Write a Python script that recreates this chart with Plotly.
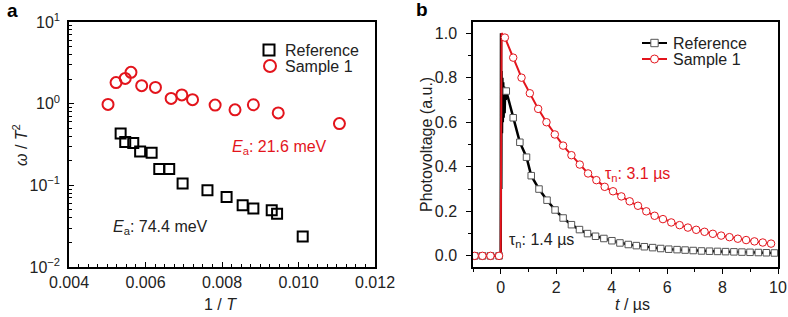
import plotly.graph_objects as go

# ---------------- Panel a data ----------------
a_sample_x = [0.00502, 0.00523, 0.00547, 0.00562, 0.00590, 0.00626, 0.00667, 0.00695,
              0.00723, 0.00782, 0.00834, 0.00882, 0.00947, 0.01107]
a_sample_y = [0.98, 1.81, 2.04, 2.42, 1.66, 1.58, 1.16, 1.28, 1.12, 0.96, 0.84, 0.97, 0.77, 0.57]
a_ref_x = [0.00535, 0.00547, 0.00568, 0.00586, 0.00616, 0.00636, 0.00662, 0.00697,
           0.00762, 0.00812, 0.00854, 0.00882, 0.00930, 0.00944, 0.01011]
a_ref_y = [0.43, 0.34, 0.33, 0.26, 0.25, 0.158, 0.158, 0.105, 0.087, 0.072, 0.057, 0.052,
           0.0496, 0.045, 0.0237]

# ---------------- Panel b data ----------------
b_pre_t = [-0.94, -0.66, -0.37, -0.06]
b_pre_v = [0.0, 0.0, 0.0, 0.0]

b_sample_t = [0.15, 0.45, 0.75, 1.05, 1.35, 1.65, 1.95, 2.25, 2.55, 2.85, 3.15, 3.45, 3.75,
              4.05, 4.35, 4.65, 4.95, 5.25, 5.55, 5.85, 6.15, 6.45, 6.75, 7.05, 7.35, 7.65,
              7.95, 8.25, 8.55, 8.85, 9.15, 9.45, 9.75]
b_sample_v = [0.98, 0.89, 0.80, 0.73, 0.66, 0.60, 0.545, 0.495, 0.452, 0.41, 0.37, 0.34, 0.31,
              0.29, 0.267, 0.245, 0.225, 0.20, 0.18, 0.165, 0.15, 0.138, 0.127, 0.117, 0.108,
              0.099, 0.091, 0.084, 0.077, 0.071, 0.065, 0.060, 0.055]
b_sample_spike_t = [0.0, 0.03, 0.08]
b_sample_spike_v = [0.0, 1.0, 0.99]

b_ref_t = [0.2, 0.45, 0.69, 0.93, 1.1, 1.38, 1.67, 1.96, 2.25, 2.55, 2.84, 3.13, 3.42, 3.72,
           4.01, 4.3, 4.6, 4.89, 5.18, 5.48, 5.77, 6.06, 6.36, 6.65, 6.94, 7.24, 7.53, 7.82,
           8.11, 8.41, 8.7, 8.99, 9.29, 9.58, 9.87]
b_ref_v = [0.74, 0.62, 0.51, 0.443, 0.36, 0.30, 0.25, 0.206, 0.17, 0.14, 0.118, 0.10, 0.088,
           0.078, 0.068, 0.058, 0.051, 0.046, 0.041, 0.037, 0.033, 0.030, 0.028, 0.026, 0.024,
           0.022, 0.021, 0.020, 0.019, 0.018, 0.017, 0.016, 0.015, 0.014, 0.013]
b_ref_spike_t = [0.0, 0.01, 0.02, 0.03, 0.045, 0.06, 0.075, 0.09, 0.105, 0.12, 0.14, 0.16, 0.18]
b_ref_spike_v = [0.0, 1.0, 0.3, 0.83, 0.55, 0.8, 0.6, 0.78, 0.62, 0.76, 0.64, 0.74, 0.7]

# ---------------- Geometry ----------------
W, H = 788, 317
TOP, BOT = 22, 267
PLOT_H = BOT - TOP
FONT = "Liberation Sans, Arial, Helvetica, sans-serif"
RED = "#e3141c"
BLACK = "#000000"


def px(x):
    return x / W


def py(y):
    return (BOT - y) / PLOT_H


fig = go.Figure()

# Panel a traces
fig.add_trace(go.Scatter(x=a_ref_x, y=a_ref_y, mode="markers", xaxis="x", yaxis="y",
                         marker=dict(symbol="square-open", size=10, color=BLACK,
                                     line=dict(width=2, color=BLACK)),
                         showlegend=False))
fig.add_trace(go.Scatter(x=a_sample_x, y=a_sample_y, mode="markers", xaxis="x", yaxis="y",
                         marker=dict(symbol="circle-open", size=11, color=RED,
                                     line=dict(width=2, color=RED)),
                         showlegend=False))

# Panel b traces
ref_line_t = [-1.0] + b_pre_t + b_ref_spike_t + b_ref_t
ref_line_v = [0.0] + b_pre_v + b_ref_spike_v + b_ref_v
fig.add_trace(go.Scatter(x=ref_line_t, y=ref_line_v, mode="lines", xaxis="x2", yaxis="y2",
                         line=dict(color=BLACK, width=2.5), showlegend=False))
fig.add_trace(go.Scatter(x=b_pre_t + b_ref_t, y=b_pre_v + b_ref_v, mode="markers",
                         xaxis="x2", yaxis="y2",
                         marker=dict(symbol="square", size=6.5, color="white",
                                     line=dict(width=1, color="#555555")),
                         showlegend=False))
sample_line_t = [-1.0] + b_pre_t + b_sample_spike_t + b_sample_t
sample_line_v = [0.0] + b_pre_v + b_sample_spike_v + b_sample_v
fig.add_trace(go.Scatter(x=sample_line_t, y=sample_line_v, mode="lines", xaxis="x2", yaxis="y2",
                         line=dict(color=RED, width=2), showlegend=False))
fig.add_trace(go.Scatter(x=b_pre_t + b_sample_t, y=b_pre_v + b_sample_v, mode="markers",
                         xaxis="x2", yaxis="y2",
                         marker=dict(symbol="circle", size=7.5, color="white",
                                     line=dict(width=1, color=RED)),
                         showlegend=False))

axis_common = dict(showline=True, mirror=True, linecolor=BLACK, linewidth=1.5,
                   showgrid=False, zeroline=False, automargin=False,
                   tickfont=dict(family=FONT, size=16, color="#222222"),
                   tickcolor=BLACK, tickwidth=1.2)

minor_log = [m * 10 ** e for e in (-2, -1, 0) for m in range(2, 10)]

fig.update_layout(
    width=W, height=H,
    margin=dict(l=0, r=0, t=TOP, b=H - BOT),
    paper_bgcolor="white", plot_bgcolor="white",
    showlegend=False,
    xaxis=dict(domain=[px(69), px(375)], range=[0.004, 0.012], anchor="y",
               tickvals=[0.004, 0.006, 0.008, 0.010, 0.012],
               ticktext=["0.004", "0.006", "0.008", "0.010", "0.012"],
               ticks="inside", ticklen=5,
               minor=dict(dtick=0.00025, ticks="inside", ticklen=3, tickcolor=BLACK, showgrid=False),
               **axis_common),
    yaxis=dict(domain=[0, 1], type="log", range=[-2, 1], anchor="x",
               tickvals=[0.01, 0.1, 1, 10],
               ticktext=["10<sup>−2</sup>", "10<sup>−1</sup>", "10<sup>0</sup>", "10<sup>1</sup>"],
               ticks="inside", ticklen=5, ticklabelstandoff=4,
               minor=dict(tickvals=minor_log, ticks="inside", ticklen=3, tickcolor=BLACK, showgrid=False),
               **axis_common),
    xaxis2=dict(domain=[px(473), px(778)], range=[-1, 10], anchor="y2",
                tickvals=[0, 2, 4, 6, 8, 10],
                ticks="outside", ticklen=5,
                minor=dict(dtick=1, ticks="outside", ticklen=3, tickcolor=BLACK, showgrid=False),
                **axis_common),
    yaxis2=dict(domain=[0, 1], range=[-0.05, 1.05], anchor="x2",
                tickvals=[0.0, 0.2, 0.4, 0.6, 0.8, 1.0],
                ticktext=["0.0", "0.2", "0.4", "0.6", "0.8", "1.0"],
                ticks="outside", ticklen=5, ticklabelstandoff=6,
                minor=dict(dtick=0.1, ticks="outside", ticklen=3, tickcolor=BLACK, showgrid=False),
                **axis_common),
)

annotations = []


def add_text(text, x, y, size=16, color="#222222", xanchor="center", textangle=0, bold=False):
    if bold:
        text = "<b>" + text + "</b>"
    annotations.append(dict(text=text, x=px(x), y=py(y), xref="paper", yref="paper",
                            xanchor=xanchor, yanchor="middle", showarrow=False,
                            textangle=textangle,
                            font=dict(family=FONT, size=size, color=color)))


# panel letters
add_text("a", 12, 11, size=19, color=BLACK, bold=True)
add_text("b", 422, 9, size=19, color=BLACK, bold=True)

# axis titles
add_text("<i>ω</i> / <i>T</i><sup>2</sup>", 20, 145, textangle=-90)
add_text("1 / <i>T</i>", 221, 304)
add_text("Photovoltage (a.u.)", 426, 145, textangle=-90)
add_text("<i>t</i> / µs", 632, 304)

# in-plot labels
add_text("<i>E</i><sub>a</sub>: 21.6 meV", 230, 147, color=RED, xanchor="left")
add_text("<i>E</i><sub>a</sub>: 74.4 meV", 111, 227, color="#222222", xanchor="left")
add_text("τ<sub>n</sub>: 3.1 µs", 603, 174, color=RED, xanchor="left")
add_text("τ<sub>n</sub>: 1.4 µs", 507, 240, color="#222222", xanchor="left")

# legend texts
add_text("Reference", 283, 50, xanchor="left")
add_text("Sample 1", 283, 66, xanchor="left")
add_text("Reference", 671, 43, xanchor="left")
add_text("Sample 1", 671, 59, xanchor="left")

fig.update_layout(annotations=annotations)

shapes = []


def box(cx, cy, half, color, width, kind, fill="rgba(0,0,0,0)"):
    shapes.append(dict(type=kind, xref="paper", yref="paper",
                       x0=px(cx - half), x1=px(cx + half),
                       y0=py(cy + half), y1=py(cy - half),
                       line=dict(color=color, width=width), fillcolor=fill))


def hline(x0, x1, y, color, width):
    shapes.append(dict(type="line", xref="paper", yref="paper",
                       x0=px(x0), x1=px(x1), y0=py(y), y1=py(y),
                       line=dict(color=color, width=width)))


# panel a legend symbols
box(269, 50, 5.5, BLACK, 2, "rect")
box(270, 66, 6, RED, 2, "circle")
# panel b legend symbols
hline(642, 667, 43, BLACK, 2)
box(654.5, 43, 3.7, "#555555", 1, "rect", fill="white")
hline(642, 667, 59, RED, 2)
box(654.5, 59, 4, RED, 1, "circle", fill="white")

fig.update_layout(shapes=shapes)

fig.write_html("out.html")
